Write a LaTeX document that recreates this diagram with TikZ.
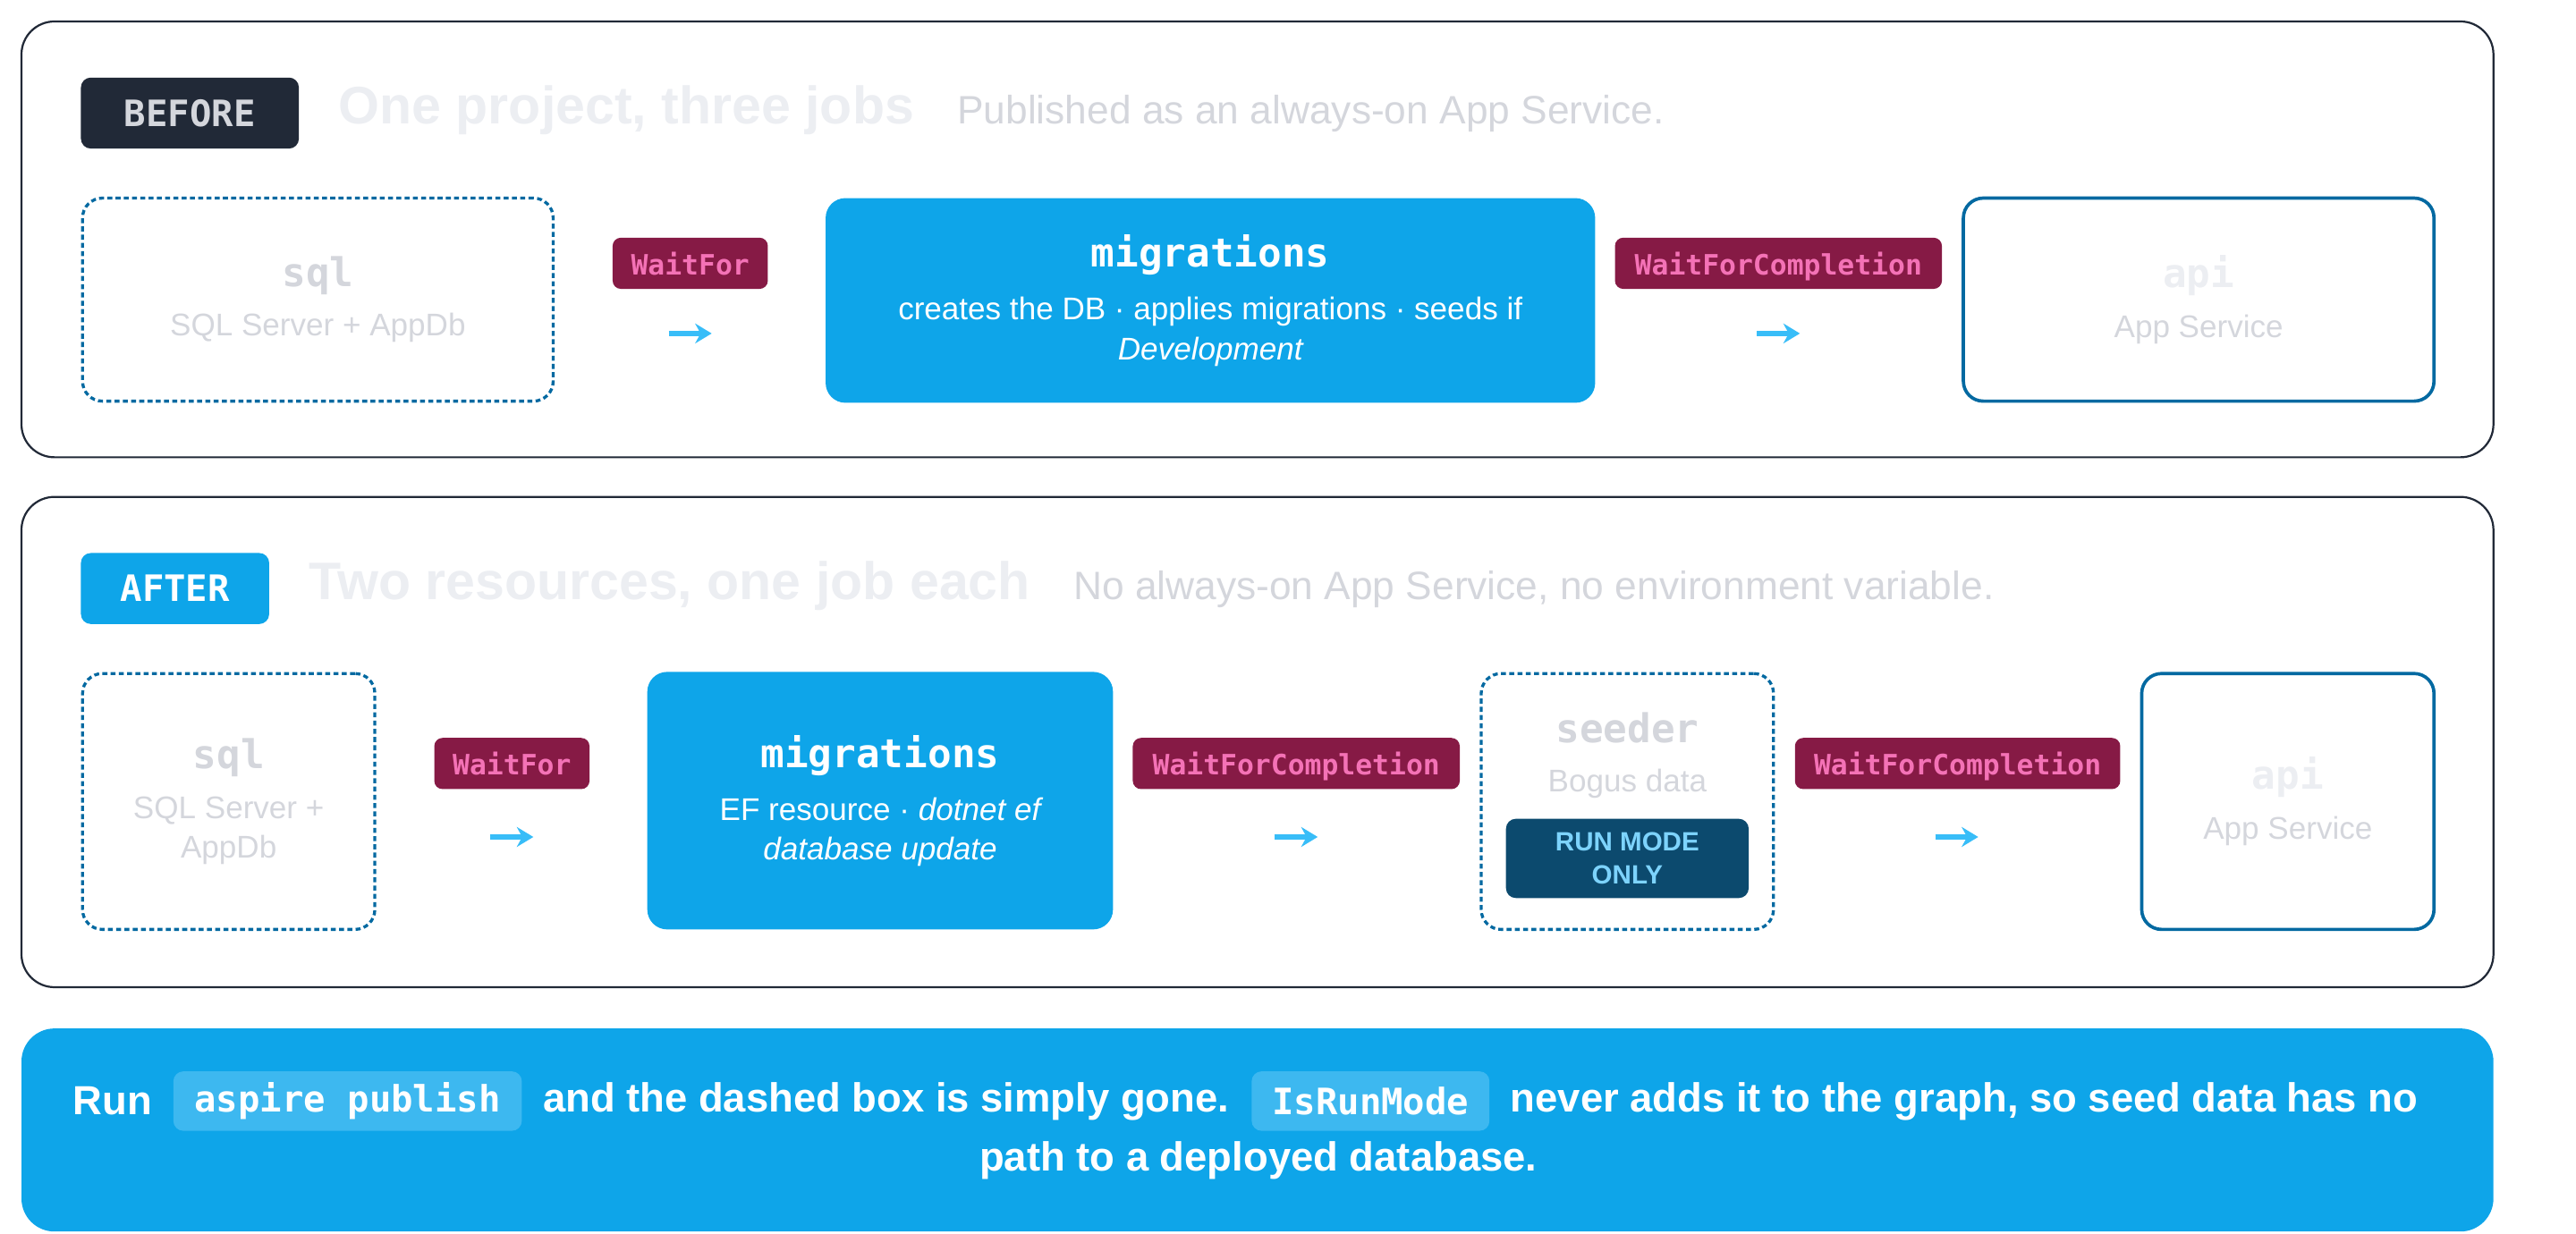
\documentclass[tikz,border=0pt]{standalone}
\usepackage{fontspec}
\setmainfont{Liberation Sans}
\setmonofont{DejaVu Sans Mono}
\usetikzlibrary{positioning}
\usetikzlibrary{arrows.meta}
\definecolor{ink}{HTML}{212937}
\definecolor{sky}{HTML}{0EA5E9}
\definecolor{skyline}{HTML}{0369A1}
\definecolor{arrowc}{HTML}{38BDF8}
\definecolor{tagbg}{HTML}{861A45}
\definecolor{tagfg}{HTML}{F472B6}
\definecolor{faint}{HTML}{D4D6DC}
\definecolor{fainter}{HTML}{ECEEF2}
\definecolor{navy}{HTML}{0C4A6E}
\definecolor{navyfg}{HTML}{7DD3FC}
\definecolor{chip}{HTML}{3DB8F0}
\begin{document}
\begin{tikzpicture}
    [
    x=0.5pt,y=-0.5pt,
    panel/.style={draw=ink,line width=0.6pt,rounded corners=10pt},
    badge/.style={rounded corners=3pt,font=\ttfamily\bfseries\fontsize{11}{13}\selectfont,inner sep=0pt,minimum height=21.5pt},
    title/.style={anchor=west,text=fainter,font=\bfseries\fontsize{16}{18}\selectfont},
    sub/.style={anchor=base west,text=faint,font=\fontsize{12}{14}\selectfont},
    job/.style={rounded corners=6pt,align=center,inner sep=0pt},
    ghost/.style={job,draw=skyline,line width=0.9pt,dashed,dash pattern=on 1.5pt off 1pt},
    solid/.style={job,draw=skyline,line width=1pt},
    main/.style={job,fill=sky,text=white},
    tag/.style={fill=tagbg,text=tagfg,rounded corners=2.5pt,inner sep=0pt,minimum height=15.5pt,font=\ttfamily\bfseries\fontsize{8.5}{10}\selectfont,text depth=0pt},
    flow/.style={-{Stealth[length=5pt,width=6pt]},draw=arrowc,line width=1.8pt},
    chipbox/.style={fill=chip,rounded corners=3pt,inner sep=0pt,minimum height=18pt,text=white,font=\ttfamily\bfseries\fontsize{11}{13}\selectfont},
    note/.style={text=white,inner sep=0pt,font=\bfseries\fontsize{12.3}{14}\selectfont}
    ]
    \useasboundingbox (0,0) rectangle (1560,747.5);

    % before
    \draw [panel] (13,13) rectangle (1510,277);
    \node (before) at (115,68.5) [badge,fill=ink,text=faint,minimum width=66pt] {BEFORE};
    \node (t1) at (198,67) [title] {One project, three jobs};
    \node (s1) [right=6pt of t1.base east,sub] {Published as an always-on App Service.};

    \node (sql1) at (192.5,181.5) [ghost,minimum width=142.5pt,minimum height=61.5pt]
      {{\ttfamily\bfseries\fontsize{12}{14}\selectfont\color{faint}sql}\\[3pt]{\fontsize{9.5}{11}\selectfont\color{faint}SQL Server + AppDb}};
    \node (w1) at (418,159.5) [tag,minimum width=47pt] {WaitFor};
    \node (mig1) at (733,182) [main,minimum width=233pt,minimum height=62pt]
      {{\ttfamily\bfseries\fontsize{12}{14}\selectfont migrations}\\[4pt]{\fontsize{9.5}{12}\selectfont creates the DB · applies migrations · seeds if}\\{\fontsize{9.5}{12}\selectfont\itshape Development}};
    \node (c1) at (1077,159.5) [tag,minimum width=99pt] {WaitForCompletion};
    \node (api1) at (1331.5,181.5) [solid,minimum width=142.5pt,minimum height=61.5pt]
      {{\ttfamily\bfseries\fontsize{12}{14}\selectfont\color{fainter}api}\\[3pt]{\fontsize{9.5}{11}\selectfont\color{faint}App Service}};
    \coordinate (a1s) at (405,202);
    \coordinate (a1e) at (431,202);
    \coordinate (b1s) at (1064,202);
    \coordinate (b1e) at (1090,202);
    \draw [flow] (a1s) -- (a1e);
    \draw [flow] (b1s) -- (b1e);

    % after
    \draw [panel] (13,301) rectangle (1510,598);
    \node (after) at (106,356.5) [badge,fill=sky,text=white,minimum width=57pt] {AFTER};
    \node (t2) at (180,355) [title] {Two resources, one job each};
    \node (s2) [right=6pt of t2.base east,sub] {No always-on App Service, no environment variable.};

    \node (sql2) at (138.5,485.5) [ghost,minimum width=88.5pt,minimum height=77.5pt]
      {{\ttfamily\bfseries\fontsize{12}{14}\selectfont\color{faint}sql}\\[3pt]{\fontsize{9.5}{12}\selectfont\color{faint}SQL Server +}\\{\fontsize{9.5}{12}\selectfont\color{faint}AppDb}};
    \node (w2) at (310,462.5) [tag,minimum width=47pt] {WaitFor};
    \node (mig2) at (533,485) [main,minimum width=141pt,minimum height=78pt]
      {{\ttfamily\bfseries\fontsize{12}{14}\selectfont migrations}\\[4pt]{\fontsize{9.5}{12}\selectfont EF resource · \itshape dotnet ef}\\{\fontsize{9.5}{12}\selectfont\itshape database update}};
    \node (c2) at (785,462.5) [tag,minimum width=99pt] {WaitForCompletion};
    \node (seed) at (985.5,485.5) [ghost,minimum width=88.5pt,minimum height=77.5pt] {};
    \node (seedt) at (985.5,441) [font=\ttfamily\bfseries\fontsize{12}{14}\selectfont,text=faint] {seeder};
    \node (seeds) at (985.5,475) [font=\fontsize{9.5}{11}\selectfont,text=faint] {Bogus data};
    \node (rmo) at (985.5,520) [fill=navy,text=navyfg,rounded corners=3pt,minimum width=73.5pt,minimum height=24pt,inner sep=0pt,align=center,font=\bfseries\fontsize{8}{10}\selectfont] {RUN MODE\\ONLY};
    \node (c3) at (1185.5,462.5) [tag,minimum width=98.5pt] {WaitForCompletion};
    \node (api2) at (1385.5,485.5) [solid,minimum width=88.5pt,minimum height=77.5pt]
      {{\ttfamily\bfseries\fontsize{12}{14}\selectfont\color{fainter}api}\\[3pt]{\fontsize{9.5}{11}\selectfont\color{faint}App Service}};
    \coordinate (a2s) at (297,507);
    \coordinate (a2e) at (323,507);
    \coordinate (b2s) at (772,507);
    \coordinate (b2e) at (798,507);
    \coordinate (d2s) at (1172,507);
    \coordinate (d2e) at (1198,507);
    \draw [flow] (a2s) -- (a2e);
    \draw [flow] (b2s) -- (b2e);
    \draw [flow] (d2s) -- (d2e);

    % note
    \fill [sky,rounded corners=10pt] (13,623) rectangle (1510,746);
    \node (ap) at (210.5,667) [chipbox,minimum width=105.5pt] {aspire publish};
    \node (irm) at (830,667) [chipbox,minimum width=72pt] {IsRunMode};
    \node (n1) [left=6pt of ap,note] {Run};
    \node (n2) [right=6pt of ap,note] {and the dashed box is simply gone.};
    \node (n3) [right=6pt of irm,note] {never adds it to the graph, so seed data has no};
    \node (n4) at (762,703) [note] {path to a deployed database.};
  \end{tikzpicture}
\end{document}
